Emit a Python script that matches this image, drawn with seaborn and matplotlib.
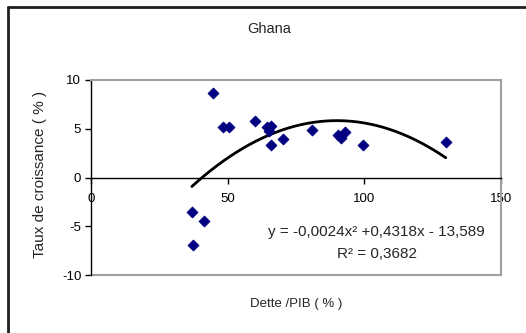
import numpy as np
import pandas as pd
import matplotlib
matplotlib.use("Agg")
import matplotlib.pyplot as plt
import seaborn as sns
from matplotlib.lines import Line2D

# Data
dette_pib = [36.9, 37.2, 41.4, 44.5, 48.3, 50.5, 60.0, 64.4, 65.9, 65.0, 65.9, 70.2, 80.8, 90.5, 91.3, 92.8, 99.6, 129.8]
croissance = [-3.5, -6.9, -4.5, 8.7, 5.2, 5.2, 5.8, 5.2, 5.3, 4.8, 3.3, 4.0, 4.85, 4.4, 4.1, 4.65, 3.3, 3.65]
trend_coefs = [-0.0024, 0.4318, -13.589]
x_ticks = [0, 50, 100, 150]
y_ticks = [-10, -5, 0, 5, 10]

sns.set_theme(style="white")
plt.rcParams['font.family'] = ['Liberation Sans', 'DejaVu Sans']

df = pd.DataFrame({"x": dette_pib, "y": croissance})
xs = np.linspace(min(dette_pib), max(dette_pib), 200)
trend = pd.DataFrame({"x": xs, "y": np.polyval(trend_coefs, xs)})

fig = plt.figure(figsize=(5.26, 3.33), dpi=100)
ax = fig.add_axes([91/526, 1-275/333, (501-91)/526, (275-80)/333])

sns.lineplot(data=trend, x="x", y="y", ax=ax, color="black", linewidth=2.0, zorder=3)
sns.scatterplot(data=df, x="x", y="y", ax=ax, marker="D", s=32, color="#000080",
                edgecolor="#000080", linewidth=0.5, zorder=4)

ax.set_xlim(0, 150)
ax.set_ylim(-10, 10)

ax.spines['bottom'].set_position(('data', 0))
ax.spines['bottom'].set_color('black')
ax.spines['bottom'].set_linewidth(1.0)
ax.spines['left'].set_color('black')
ax.spines['left'].set_linewidth(1.0)
for s in ['top', 'right']:
    ax.spines[s].set_color('#a0a0a0')
    ax.spines[s].set_linewidth(1.5)
ax.add_line(Line2D([0, 1], [0, 0], transform=ax.transAxes, color='#a0a0a0', linewidth=1.5, clip_on=False))

ax.tick_params(axis='both', which='both', direction='out', length=4, width=1, color='black',
               pad=3, labelcolor='black', bottom=True, left=True)
ax.tick_params(axis='x', pad=7)

ax.set_xticks(x_ticks)
ax.set_yticks(y_ticks)
ax.set_xticklabels([str(t) for t in x_ticks], fontsize=9.5)
ax.set_yticklabels([str(t) for t in y_ticks], fontsize=9.5)

ax.set_xlabel("")
ax.set_ylabel("")
fig.text(40/526, 1-174/333, "Taux de croissance ( % )", rotation=90, ha='center', va='center', fontsize=11)
fig.text(296/526, 1-304/333, "Dette /PIB ( % )", ha='center', va='center', fontsize=9.5)
fig.text(269/526, 1-29/333, "Ghana", ha='center', va='center', fontsize=10.5)

fig.text(376/526, 1-232/333, "y = -0,0024x\u00b2 +0,4318x - 13,589",
         ha='center', va='center', fontsize=11)
fig.text(377/526, 1-254/333, "R\u00b2 = 0,3682",
         ha='center', va='center', fontsize=11)

# outer chart border (top and left visible)
fig.add_artist(Line2D([8/526, 1], [1-7/333, 1-7/333], transform=fig.transFigure, color='#202020', linewidth=2))
fig.add_artist(Line2D([8/526, 8/526], [0, 1-7/333], transform=fig.transFigure, color='#202020', linewidth=2))

fig.savefig("out.png", dpi=100)
